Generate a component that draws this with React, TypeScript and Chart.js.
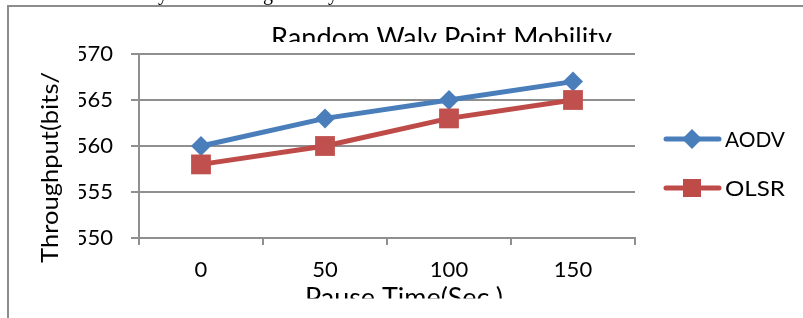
import React, { useEffect, useRef } from "react";
import { Chart, registerables } from "chart.js";

Chart.register(...registerables);

// ---- data ----
const categories = ["0", "50", "100", "150"];
const aodvValues = [560, 563, 565, 567];
const olsrValues = [558, 560, 563, 565];
const seriesNames = ["AODV", "OLSR"];
const yMin = 550;
const yMax = 570;
const yStep = 5;
const chartTitle = "Random Waly Point Mobility";
const xAxisTitle = "Pause Time(Sec.)";
const yAxisTitle = "Throughput(bits/";

// ---- styles ----
const FAMILY = "Lato, 'Open Sans', sans-serif";
const BLUE = "#4A7EBB";
const RED = "#BE4B48";
const GRID = "#8f8f8f";

function drawFitted(
  ctx: CanvasRenderingContext2D,
  text: string,
  size: number,
  target: number
) {
  ctx.font = `${size}px ${FAMILY}`;
  const w = ctx.measureText(text).width;
  const k = target / w;
  ctx.scale(k, 1);
  ctx.fillText(text, 0, 0);
}

const overlayPlugin = {
  id: "overlay",
  afterDraw(chart: any) {
    const ctx: CanvasRenderingContext2D = chart.ctx;
    ctx.save();
    // outer frame (partially visible)
    ctx.strokeStyle = "#8c8c8c";
    ctx.lineWidth = 2;
    ctx.beginPath();
    ctx.moveTo(8, 330);
    ctx.lineTo(8, 6);
    ctx.lineTo(805, 6);
    ctx.stroke();

    // cut-off document text above the frame
    ctx.save();
    ctx.beginPath();
    ctx.rect(0, 0, 803, 5);
    ctx.clip();
    ctx.fillStyle = "#000";
    ctx.font = "20px 'Liberation Serif', serif";
    ctx.textBaseline = "alphabetic";
    ctx.textAlign = "center";
    ctx.fillText("y", 163, 0);
    ctx.fillText("g", 268, 0);
    ctx.fillText("y", 333, 0);
    ctx.restore();

    ctx.fillStyle = "#000";
    ctx.textAlign = "left";
    ctx.textBaseline = "alphabetic";

    // chart title, clipped at bottom
    ctx.save();
    ctx.beginPath();
    ctx.rect(0, 15, 803, 27);
    ctx.clip();
    ctx.translate(271, 28 + 27 * 0.72);
    drawFitted(ctx, chartTitle, 27, 341);
    ctx.restore();

    // x axis title, clipped at bottom
    ctx.save();
    ctx.beginPath();
    ctx.rect(0, 280, 803, 18.5);
    ctx.clip();
    ctx.translate(305, 288 + 26 * 0.72);
    drawFitted(ctx, xAxisTitle, 26, 198);
    ctx.restore();

    // y axis title (rotated)
    ctx.save();
    ctx.translate(40 + 24 * 0.74, 263);
    ctx.rotate(-Math.PI / 2);
    drawFitted(ctx, yAxisTitle, 24, 191);
    ctx.restore();

    // legend
    const items = [
      { name: seriesNames[0], color: BLUE, y: 139, marker: "diamond" },
      { name: seriesNames[1], color: RED, y: 188, marker: "square" },
    ];
    ctx.textBaseline = "middle";
    ctx.textAlign = "left";
    for (const it of items) {
      ctx.strokeStyle = it.color;
      ctx.lineWidth = 5;
      ctx.lineCap = "round";
      ctx.beginPath();
      ctx.moveTo(666, it.y);
      ctx.lineTo(719, it.y);
      ctx.stroke();
      ctx.fillStyle = it.color;
      ctx.beginPath();
      if (it.marker === "diamond") {
        const r = 10;
        ctx.moveTo(692 - r, it.y);
        ctx.lineTo(692, it.y - r);
        ctx.lineTo(692 + r, it.y);
        ctx.lineTo(692, it.y + r);
        ctx.closePath();
      } else {
        ctx.rect(683, it.y - 9, 18, 18);
      }
      ctx.fill();
      ctx.fillStyle = "#000";
      ctx.save();
      ctx.translate(725, it.y + 1);
      drawFitted(ctx, it.name, 22, 60);
      ctx.restore();
    }
    ctx.restore();
  },
};

export default function App() {
  const ref = useRef<HTMLCanvasElement | null>(null);
  useEffect(() => {
    if (!ref.current) return;
    const chart = new Chart(ref.current, {
      type: "line",
      data: {
        labels: categories,
        datasets: [
          {
            label: seriesNames[0],
            data: aodvValues,
            borderColor: BLUE,
            backgroundColor: BLUE,
            borderWidth: 5,
            pointStyle: "rectRot",
            pointRadius: 10,
            pointBorderWidth: 0,
            pointBackgroundColor: BLUE,
            order: 1,
          },
          {
            label: seriesNames[1],
            data: olsrValues,
            borderColor: RED,
            backgroundColor: "#C0504D",
            borderWidth: 5,
            pointStyle: "rect",
            pointRadius: 14,
            pointBorderWidth: 0,
            pointBackgroundColor: "#C0504D",
            order: 0,
          },
        ],
      },
      options: {
        animation: false,
        responsive: false,
        maintainAspectRatio: false,
        devicePixelRatio: 1,
        layout: { padding: { left: 79, right: 168, top: 54, bottom: 40 } },
        plugins: {
          legend: { display: false },
          title: { display: false },
          tooltip: { enabled: false },
        },
        scales: {
          x: {
            type: "category",
            offset: true,
            afterFit: (s: any) => {
              s.height = 40;
            },
            grid: {
              offset: true,
              drawOnChartArea: false,
              drawTicks: true,
              tickLength: 7,
              color: GRID,
              lineWidth: 2,
            },
            border: { color: GRID, width: 2 },
            ticks: {
              color: "#000",
              font: { family: FAMILY, size: 22 },
              padding: 12,
              maxRotation: 0,
            },
          },
          y: {
            min: yMin,
            max: yMax,
            afterFit: (s: any) => {
              s.width = 60;
            },
            ticks: {
              stepSize: yStep,
              color: "#000",
              font: { family: FAMILY, size: 22 },
              padding: 18,
            },
            grid: {
              color: GRID,
              lineWidth: 2,
              tickLength: 8,
            },
            border: { color: GRID, width: 2 },
          },
        },
      },
      plugins: [overlayPlugin],
    });
    return () => chart.destroy();
  }, []);
  return (
    <canvas
      ref={ref}
      width={803}
      height={318}
      style={{ position: "fixed", left: 0, top: 0, width: 803, height: 318, background: "#fff" }}
    />
  );
}
